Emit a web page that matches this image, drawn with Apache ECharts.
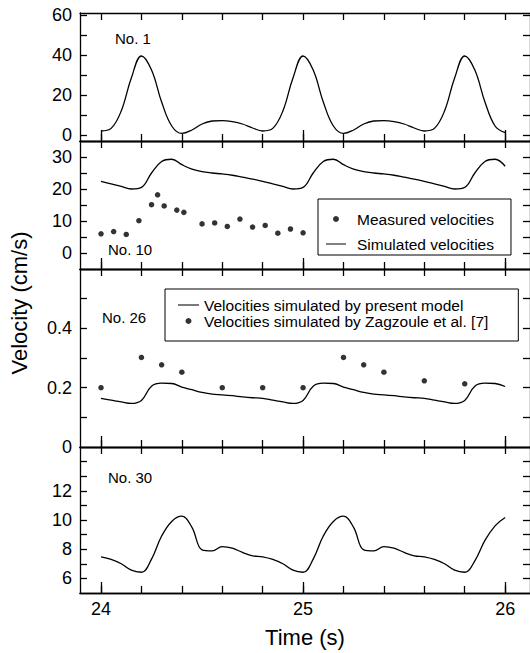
<!DOCTYPE html>
<html><head><meta charset="utf-8">
<script src="https://cdn.jsdelivr.net/npm/echarts@6/dist/echarts.min.js"></script>
<style>html,body{margin:0;padding:0;background:#fff}#c{width:530px;height:653px}</style>
</head><body><div id="c"></div>
<script>
// ---- data ----
const TIME = [24.00,24.05,24.10,24.15,24.20,24.25,24.30,24.35,24.40,24.45,24.50,24.55,24.60,24.65,24.70,24.75,
              24.80,24.85,24.90,24.95,25.00,25.05,25.10,25.15,25.20,25.25,25.30,25.35,25.40,25.45,25.50,25.55,
              25.60,25.65,25.70,25.75,25.80,25.85,25.90,25.95,26.00];
const NO1_SIM = [2,3.3,12,28.5,39.5,32.5,16.5,4.5,0.8,2.5,5.5,7,7.2,6.7,5.5,3.5,
                 2,3.3,12,28.5,39.5,32.5,16.5,4.5,0.8,2.5,5.5,7,7.2,6.7,5.5,3.5,
                 2,3.3,12,28.5,39.5,32.5,16.5,4.5,1.2];
const NO10_SIM = [22.4,21.6,20.8,20.0,20.5,25,28.6,29.3,27.6,26.2,25.4,25.0,24.7,24.3,23.7,23.1,
                  22.4,21.6,20.8,20.0,20.5,25,28.6,29.3,27.6,26.2,25.4,25.0,24.7,24.3,23.7,23.1,
                  22.4,21.6,20.8,20.0,20.5,25,28.6,29.3,27.1];
const NO10_MEAS_T = [24.0,24.0625,24.125,24.1875,24.25,24.28,24.3125,24.375,24.41,24.5,24.5625,24.625,24.6875,24.75,24.8125,24.875,24.9375,25.0];
const NO10_MEAS_V = [6.0,6.7,5.8,10.1,15.1,18.2,14.7,13.4,12.7,9.1,9.4,8.3,10.6,8.1,8.6,6.2,7.5,6.3];
const NO26_SIM = [0.164,0.158,0.152,0.147,0.157,0.205,0.215,0.214,0.202,0.193,0.184,0.178,0.176,0.173,0.169,0.166,
                  0.164,0.158,0.152,0.147,0.157,0.205,0.215,0.214,0.202,0.193,0.184,0.178,0.176,0.173,0.169,0.166,
                  0.164,0.158,0.152,0.147,0.157,0.205,0.215,0.214,0.204];
const NO26_ZAG_T = [24.0,24.2,24.3,24.4,24.6,24.8,25.0,25.2,25.3,25.4,25.6,25.8];
const NO26_ZAG_V = [0.2,0.302,0.277,0.252,0.2,0.2,0.2,0.302,0.277,0.252,0.223,0.213];
const NO30_SIM = [7.48,7.3,7.0,6.56,6.42,7.32,8.9,9.9,10.26,9.5,7.95,7.88,8.18,8.07,7.78,7.55,
                  7.48,7.3,7.0,6.56,6.42,7.32,8.9,9.9,10.26,9.5,7.95,7.88,8.18,8.07,7.78,7.55,
                  7.48,7.3,7.0,6.56,6.42,7.2,8.6,9.6,10.17];

const X_TICKS = [24,24.2,24.4,24.6,24.8,25,25.2,25.4,25.6,25.8,26];
const X_MAJOR_TICKS = [24,25,26];
const X_LABELS = [24,25,26];
const PANEL_NAMES = ['No. 1','No. 10','No. 26','No. 30'];
const Y_TICKS = [[0,10,20,30,40,50,60],[0,5,10,15,20,25,30],[0.1,0.2,0.3,0.4,0.5],[6,7,8,9,10,11,12,13,14]];
const Y_LABELS = [[0,20,40,60],[0,10,20,30],[0,0.2,0.4],[6,8,10,12]];
const Y_RANGE = [[-3,61],[-5,35],[0,0.6],[5,15]];

// ---- layout ----
const FONT = 'Liberation Sans, Arial, Helvetica, sans-serif';
const GRID_POS = [{top:13,height:128},{top:141,height:128},{top:269,height:178},{top:447,height:146}];
const XMIN = 23.896, XMAX = 26.123;
const LINE = {color:'#000', width:1.3};

const grids = [], xAxes = [], yAxes = [];
// data grids (axes hidden) 0..3
GRID_POS.forEach((g, i) => {
  grids.push({left: 80, width: 451, top: g.top, height: g.height, containLabel: false});
  xAxes.push({gridIndex: i, type: 'value', min: XMIN, max: XMAX, show: false});
  yAxes.push({gridIndex: i, type: 'value', min: Y_RANGE[i][0], max: Y_RANGE[i][1], show: false});
});
// frame/tick grids (no series) 4..7
GRID_POS.forEach((g, i) => {
  const gi = grids.length;
  grids.push({left: 80, width: 451, top: g.top, height: g.height, containLabel: false});
  const baseX = {gridIndex: gi, type: 'value', min: XMIN, max: XMAX, splitLine: {show: false}};
  xAxes.push(Object.assign({}, baseX, {position: 'bottom',
    axisLine: {show: true, onZero: false, lineStyle: LINE},
    axisTick: {show: true, inside: true, length: 7, customValues: X_TICKS, lineStyle: LINE},
    axisLabel: {show: i === 3, customValues: X_LABELS, margin: 7, color: '#000', fontSize: 18, fontFamily: FONT},
    name: i === 3 ? 'Time (s)' : '', nameLocation: 'middle', nameGap: 33,
    nameTextStyle: {color: '#000', fontSize: 22, fontFamily: FONT}}));
  xAxes.push(Object.assign({}, baseX, {position: 'bottom',
    axisLine: {show: true, onZero: false, lineStyle: LINE},
    axisTick: {show: true, inside: true, length: 11, customValues: X_MAJOR_TICKS, lineStyle: LINE},
    axisLabel: {show: false}}));
  xAxes.push(Object.assign({}, baseX, {position: 'top',
    axisLine: {show: true, onZero: false, lineStyle: LINE},
    axisTick: {show: true, inside: true, length: 7, customValues: X_TICKS, lineStyle: LINE},
    axisLabel: {show: false}}));
  const baseY = {gridIndex: gi, type: 'value', min: Y_RANGE[i][0], max: Y_RANGE[i][1], splitLine: {show: false}};
  yAxes.push(Object.assign({}, baseY, {position: 'left',
    axisLine: {show: true, onZero: false, lineStyle: LINE},
    axisTick: {show: true, inside: true, length: 7, customValues: Y_TICKS[i], lineStyle: LINE},
    axisLabel: {show: true, customValues: Y_LABELS[i], margin: 8, color: '#000', fontSize: 18, fontFamily: FONT}}));
  yAxes.push(Object.assign({}, baseY, {position: 'right',
    axisLine: {show: true, onZero: false, lineStyle: LINE},
    axisTick: {show: true, inside: true, length: 7, customValues: Y_TICKS[i], lineStyle: LINE},
    axisLabel: {show: false}}));
});
// full-height grid for the shared y-axis title (8)
grids.push({left: 80, width: 451, top: 13, height: 580, containLabel: false});
xAxes.push({gridIndex: 8, type: 'value', min: 0, max: 1, show: false});
yAxes.push({gridIndex: 8, type: 'value', min: 0, max: 1, position: 'left',
  axisLine: {show: false, onZero: false}, axisTick: {show: false}, axisLabel: {show: false}, splitLine: {show: false},
  name: 'Velocity (cm/s)', nameLocation: 'middle', nameGap: 50,
  nameTextStyle: {color: '#000', fontSize: 22, fontFamily: FONT}});

function pairs(xs, ys) { return xs.map((x, k) => [x, ys[k]]); }
function lineSeries(name, i, ys) {
  return {name: name, type: 'line', xAxisIndex: i, yAxisIndex: i, data: pairs(TIME, ys),
    smooth: 0.4, symbol: 'none', lineStyle: {color: '#000', width: 1.3}, itemStyle: {color: '#000'}};
}
function dotSeries(name, i, xs, ys) {
  return {name: name, type: 'scatter', xAxisIndex: i, yAxisIndex: i, data: pairs(xs, ys),
    symbol: 'circle', symbolSize: 5.5, itemStyle: {color: '#000'}};
}
const series = [
  lineSeries('No. 1 simulated', 0, NO1_SIM),
  dotSeries('Measured velocities', 1, NO10_MEAS_T, NO10_MEAS_V),
  lineSeries('Simulated velocities', 1, NO10_SIM),
  lineSeries('Velocities simulated by present model', 2, NO26_SIM),
  dotSeries('Velocities simulated by Zagzoule et al. [7]', 2, NO26_ZAG_T, NO26_ZAG_V),
  lineSeries('No. 30 simulated', 3, NO30_SIM)
];

const LINE_ICON = 'path://M0,0H20V1H0Z';
const legendText = {color: '#000', fontSize: 15.5, fontFamily: FONT};
const legends = [
  {orient: 'vertical', left: 318, top: 199, padding: [12, 17, 3, 8], itemGap: 9,
   itemWidth: 20, itemHeight: 6, borderColor: '#000', borderWidth: 1, backgroundColor: '#fff',
   selectedMode: false, textStyle: Object.assign({padding: [0,0,0,6]}, legendText),
   data: [{name: 'Measured velocities', icon: 'circle'}, {name: 'Simulated velocities', icon: LINE_ICON}]},
  {orient: 'vertical', left: 165, top: 289, padding: [8, 30, 12, 13], itemGap: 0,
   itemWidth: 21, itemHeight: 6, borderColor: '#000', borderWidth: 1, backgroundColor: '#fff',
   selectedMode: false, textStyle: legendText,
   data: [{name: 'Velocities simulated by present model', icon: LINE_ICON},
          {name: 'Velocities simulated by Zagzoule et al. [7]', icon: 'circle'}]}
];

const LABEL_POS = [[115,31],[108,242],[102,310],[108,470]];
const graphics = PANEL_NAMES.map((t, i) => ({type: 'text', left: LABEL_POS[i][0], top: LABEL_POS[i][1],
  style: {text: t, fill: '#000', font: '15px ' + FONT}}));

const chart = echarts.init(document.getElementById('c'), null, {renderer: 'svg'});
chart.setOption({
  animation: false,
  backgroundColor: '#fff',
  grid: grids, xAxis: xAxes, yAxis: yAxes, series: series,
  legend: legends, graphic: graphics
});
</script></body></html>
